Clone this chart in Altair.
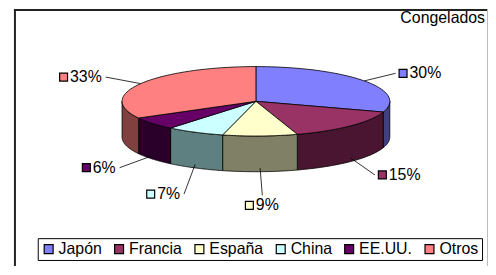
import altair as alt
import pandas as pd

# ---- data ----
categories = ["Japón", "Francia", "España", "China", "EE.UU.", "Otros"]
values = [30, 15, 9, 7, 6, 33]
labels = ["30%", "15%", "9%", "7%", "6%", "33%"]
top_colors = ["#8080FF", "#993366", "#FFFFCC", "#CCFFFF", "#660066", "#FF8080"]
side_colors = ["#404080", "#4A1530", "#808066", "#5F8080", "#2A002A", "#804040"]
title_text = ["Congelados"]

# ---- layout constants (pixels in the chart frame) ----
W, H = 484, 259
CX, CY, RX, RY, DEPTH = 250, 93, 135, 35, 36
N = 48
FONT = "Liberation Sans"

df = pd.DataFrame({
    "cat": categories, "value": values, "label": labels,
    "top": top_colors, "side": side_colors, "k": list(range(len(categories))),
})

xs = alt.Scale(domain=[0, W], nice=False, zero=False)
ys = alt.Scale(domain=[0, H], reverse=True, nice=False, zero=False)

base = (
    alt.Chart(df)
    .transform_window(cum="sum(value)", sort=[alt.SortField("k")], frame=[None, 0])
    .transform_joinaggregate(total="sum(value)")
    .transform_calculate(
        a0="2*PI*(datum.cum-datum.value)/datum.total",
        a1="2*PI*datum.cum/datum.total",
    )
)

# side walls (front half of the cylinder)
side = (
    base.transform_calculate(b0="max(datum.a0, PI/2)", b1="min(datum.a1, 3*PI/2)")
    .transform_filter("datum.b1 > datum.b0")
    .transform_calculate(i=f"sequence(0, {2 * N + 3})")
    .transform_flatten(["i"])
    .transform_calculate(
        j=f"datum.i <= {N} ? datum.i : (datum.i <= {2 * N + 1} ? {2 * N + 1} - datum.i : 0)",
    )
    .transform_calculate(
        t=f"datum.b0 + (datum.b1 - datum.b0) * datum.j / {N}",
    )
    .transform_calculate(
        px=f"{CX} + {RX} * sin(datum.t)",
        py=f"{CY} - {RY} * cos(datum.t) + ((datum.i > {N} && datum.i <= {2 * N + 1}) ? {DEPTH} : 0)",
    )
    .mark_line(filled=True, stroke="black", strokeWidth=0.8, strokeJoin="round")
    .encode(
        x=alt.X("px:Q", scale=xs, axis=None),
        y=alt.Y("py:Q", scale=ys, axis=None),
        fill=alt.Fill("side:N", scale=None),
        detail="cat:N",
        order="i:Q",
    )
)

# top faces
top = (
    base.transform_calculate(i=f"sequence(-1, {N + 2})")
    .transform_flatten(["i"])
    .transform_calculate(t=f"datum.a0 + (datum.a1 - datum.a0) * clamp(datum.i, 0, {N}) / {N}")
    .transform_calculate(
        px=f"(datum.i < 0 || datum.i > {N}) ? {CX} : {CX} + {RX} * sin(datum.t)",
        py=f"(datum.i < 0 || datum.i > {N}) ? {CY} : {CY} - {RY} * cos(datum.t)",
    )
    .mark_line(filled=True, stroke="black", strokeWidth=0.8, strokeJoin="round")
    .encode(
        x=alt.X("px:Q", scale=xs, axis=None),
        y=alt.Y("py:Q", scale=ys, axis=None),
        fill=alt.Fill("top:N", scale=None),
        detail="cat:N",
        order="i:Q",
    )
)

# label geometry
lab = base.transform_calculate(m="(datum.a0 + datum.a1) / 2").transform_calculate(
    lx="250 + 205 * sin(datum.m)",
    ly="93 - (cos(datum.m) < 0 ? 105 : 48) * cos(datum.m)",
    tw="8.9 * (length(datum.label) - 1) + 14.2",
    ex=f"{CX} + {RX} * sin(datum.m)",
    ey=f"{CY} - {RY} * cos(datum.m) + (cos(datum.m) < 0 ? {DEPTH * 0.9} : 0)",
).transform_calculate(
    gw="12 + datum.tw",
).transform_calculate(
    sqx="datum.lx - datum.gw / 2 + 4.5",
    txx="datum.lx - datum.gw / 2 + 11",
    qx="abs(sin(datum.m)) > 0.3 ? datum.lx - (sin(datum.m) > 0 ? 1 : -1) * (datum.gw / 2 + 3) : datum.lx",
    qy="abs(sin(datum.m)) > 0.3 ? datum.ly : datum.ly - 10",
)

leaders = lab.mark_rule(color="black", strokeWidth=0.8).encode(
    x=alt.X("ex:Q", scale=xs, axis=None),
    y=alt.Y("ey:Q", scale=ys, axis=None),
    x2="qx:Q",
    y2="qy:Q",
)

squares = lab.mark_square(size=64, filled=True, stroke="black", strokeWidth=1.2, opacity=1).encode(
    x=alt.X("sqx:Q", scale=xs, axis=None),
    y=alt.Y("ly:Q", scale=ys, axis=None),
    fill=alt.Fill(
        "cat:N",
        scale=alt.Scale(domain=categories, range=top_colors),
        legend=alt.Legend(
            title=None, orient="none", legendX=30, legendY=231, direction="horizontal",
            symbolType="square", symbolSize=81, symbolStrokeColor="black", symbolStrokeWidth=1.2,
            symbolOpacity=1, labelFont=FONT, labelFontSize=16, labelColor="black",
            labelOffset=2, columnPadding=9, padding=3, strokeColor="black",
        ),
    ),
)

texts = lab.mark_text(align="left", baseline="middle", font=FONT, fontSize=16, color="black").encode(
    x=alt.X("txx:Q", scale=xs, axis=None),
    y=alt.Y("ly:Q", scale=ys, axis=None),
    text="label:N",
)

title = alt.Chart(pd.DataFrame({"t": title_text})).mark_text(
    align="right", baseline="alphabetic", font=FONT, fontSize=16, color="black"
).encode(x=alt.value(481), y=alt.value(14), text="t:N")

frame_df = pd.DataFrame({"d": [0]})
left_line = alt.Chart(frame_df).mark_rule(color="#222222", strokeWidth=2).encode(
    x=alt.value(7), y=alt.value(0), y2=alt.value(H))
top_line = alt.Chart(frame_df).mark_rule(color="#222222", strokeWidth=2).encode(
    x=alt.value(6), x2=alt.value(W), y=alt.value(1))
right_line = alt.Chart(frame_df).mark_rule(color="#bbbbbb", strokeWidth=1).encode(
    x=alt.value(W - 0.5), y=alt.value(0), y2=alt.value(H))

chart = (
    alt.layer(left_line, top_line, right_line, side, top, leaders, squares, texts, title)
    .resolve_scale(fill="independent")
    .properties(width=W, height=H, autosize=alt.AutoSizeParams(type="none"), padding=0)
    .configure_view(stroke=None)
)

chart.save("out.html", embed_options={"renderer": "svg", "actions": False})
